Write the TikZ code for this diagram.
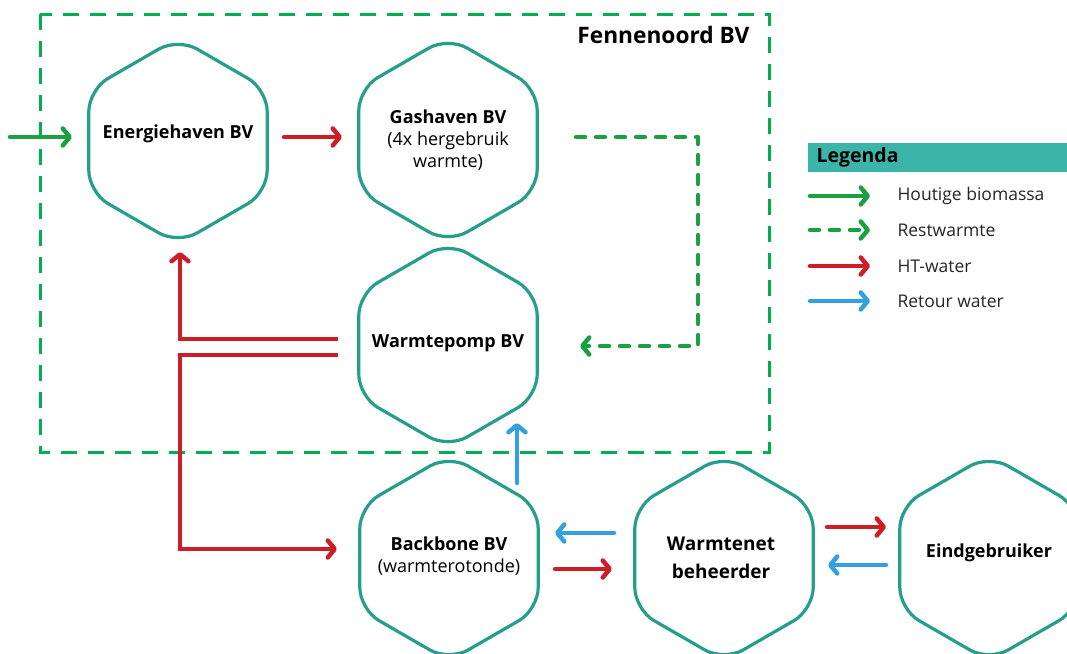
\documentclass[tikz,border=0pt]{standalone}
\usepackage{fontspec}
\setmainfont{Open Sans}
\usetikzlibrary{shapes.geometric,arrows.meta}
\definecolor{hexc}{RGB}{38,158,140}
\definecolor{legc}{RGB}{59,181,170}
\definecolor{fgreen}{RGB}{0,176,80}
\definecolor{agreen}{RGB}{26,160,64}
\definecolor{ared}{RGB}{205,30,40}
\definecolor{ablue}{RGB}{50,160,225}
\begin{document}
\begin{tikzpicture}[x=1pt,y=-1pt,
  hex/.style={draw=hexc, line width=3.2pt, regular polygon, regular polygon sides=6,
    shape border rotate=30, minimum size=206pt, inner sep=0pt, rounded corners=22pt,
    fill=white},
  htext/.style={align=center, font=\fontsize{18}{22}\selectfont, inner sep=0pt},
  tip/.style={-{Straight Barb[length=7pt,width=17pt,round]}},
  flow/.style={line width=4.5pt, line cap=round, tip},
  gflow/.style={flow, draw=agreen},
  gdash/.style={flow, draw=agreen, dash pattern=on 9pt off 11pt},
  rflow/.style={flow, draw=ared},
  bflow/.style={flow, draw=ablue},
  legtext/.style={anchor=west, font=\fontsize{17.5}{20}\selectfont, text=black!85},
  frame/.style={draw=fgreen, line width=3pt, dash pattern=on 16pt off 11pt}
]
\clip (0,0) rectangle (1067,653);
\useasboundingbox (0,0) rectangle (1067,653);

% frame
\draw[frame] (40,14) rectangle (769,452);
\node[anchor=east, font=\bfseries\fontsize{22.7}{26}\selectfont] (fn) at (753,35) {Fennenoord BV};

% nodes
\node[hex] (eh) at (178,141) {};
\node[htext] (eht) at (178,134) {\textbf{Energiehaven BV}};
\node[hex] (gh) at (448,140) {};
\node[htext] (ght) at (448,140) {\textbf{Gashaven BV}\\(4x hergebruik\\warmte)};
\node[hex] (wp) at (448,345) {};
\node[htext] (wpt) at (448,343) {\textbf{Warmtepomp BV}};
\node[hex] (bb) at (449,558) {};
\node[htext] (bbt) at (449,556) {\textbf{Backbone BV}\\(warmterotonde)};
\node[hex] (wb) at (724,558) {};
\node[htext, font=\bfseries\fontsize{19}{28}\selectfont] (wbt) at (721,558) {Warmtenet\\beheerder};
\node[hex] (eg) at (989,558) {};
\node[htext] (egt) at (989,553) {\textbf{Eindgebruiker}};

% coordinates
\coordinate (in) at (10,137);
\coordinate (inE) at (72,137);
\coordinate (r1a) at (284,137);
\coordinate (r1b) at (342,137);
\coordinate (d1) at (576,137);
\coordinate (d2) at (698,137);
\coordinate (d3) at (698,346);
\coordinate (d4) at (580,346);
\coordinate (wa) at (338,339);
\coordinate (wa1) at (180,339);
\coordinate (wa2) at (180,252);
\coordinate (wb0) at (338,355);
\coordinate (wb1) at (180,355);
\coordinate (wb2) at (180,549);
\coordinate (wb3) at (337,549);
\coordinate (bu0) at (517,483);
\coordinate (bu1) at (517,423);
\coordinate (bl0) at (614,533);
\coordinate (bl1) at (555,533);
\coordinate (rr0) at (555,569);
\coordinate (rr1) at (612,569);
\coordinate (er0) at (827,527);
\coordinate (er1) at (886,527);
\coordinate (eb0) at (886,565);
\coordinate (eb1) at (828,565);

% connectors
\draw[gflow] (in) -- (inE);
\draw[rflow] (r1a) -- (r1b);
\draw[gdash, line join=round] (d1) -- (d2) -- (d3) -- (d4);
\draw[rflow, line cap=butt] (wa) -- (wa1) -- (wa2);
\draw[rflow, line cap=butt] (wb0) -- (wb1) -- (wb2) -- (wb3);
\draw[bflow] (bu0) -- (bu1);
\draw[bflow] (bl0) -- (bl1);
\draw[rflow] (rr0) -- (rr1);
\draw[rflow] (er0) -- (er1);
\draw[bflow] (eb0) -- (eb1);

% legend
\fill[legc] (808,143) rectangle (1067,172);
\node[anchor=west, font=\bfseries\fontsize{19.5}{22}\selectfont] (lg) at (813,157.5) {Legenda};
\coordinate (l1a) at (810,196); \coordinate (l1b) at (870,196);
\coordinate (l2a) at (810,230); \coordinate (l2b) at (870,230);
\coordinate (l3a) at (810,266); \coordinate (l3b) at (870,266);
\coordinate (l4a) at (810,301); \coordinate (l4b) at (870,301);
\draw[gflow] (l1a) -- (l1b);
\draw[gdash] (l2a) -- (l2b);
\draw[rflow] (l3a) -- (l3b);
\draw[bflow] (l4a) -- (l4b);
\node[legtext] (t1) at (894,196) {Houtige biomassa};
\node[legtext] (t2) at (894,230) {Restwarmte};
\node[legtext] (t3) at (894,266) {HT-water};
\node[legtext] (t4) at (894,301) {Retour water};
\end{tikzpicture}
\end{document}
